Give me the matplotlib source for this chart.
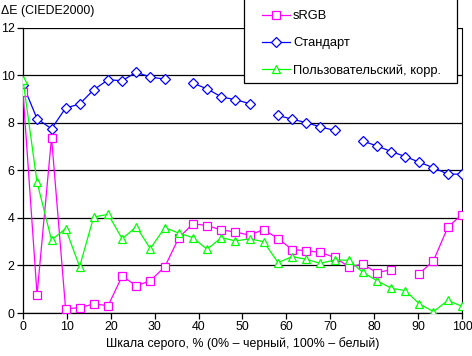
import numpy as np
import matplotlib
matplotlib.use("Agg")
import matplotlib.pyplot as plt
from matplotlib.patches import Rectangle

nan = np.nan
gray_levels = [0, 3.2, 6.5, 9.7, 12.9, 16.1, 19.4, 22.6, 25.8, 29.0, 32.3, 35.5,
               38.7, 41.9, 45.2, 48.4, 51.6, 54.8, 58.1, 61.3, 64.5, 67.7, 71.0,
               74.2, 77.4, 80.6, 83.9, 87.1, 90.3, 93.5, 96.8, 100]

srgb = [9.28, 0.77, 7.38, 0.18, 0.22, 0.38, 0.31, 1.56, 1.14, 1.36, 1.94, 3.17,
        3.75, 3.68, 3.49, 3.41, 3.27, 3.51, 3.13, 2.67, 2.62, 2.55, 2.34,
        1.95, 2.05, 1.70, 1.82, nan, 1.66, 2.20, 3.62, 4.14]

standard = [9.60, 8.17, 7.75, 8.62, 8.79, 9.39, 9.81, 9.77, 10.13, 9.92, 9.84, nan,
            9.67, 9.43, 9.09, 8.97, 8.81, nan, 8.31, 8.15, 8.01, 7.83, 7.68,
            nan, 7.23, 7.03, 6.79, 6.58, 6.34, 6.11, 5.84, 5.84]

custom = [9.81, 5.50, 3.07, 3.55, 1.95, 4.04, 4.15, 3.12, 3.63, 2.71, 3.59, 3.36,
          3.17, 2.68, 3.17, 3.03, 3.12, 3.00, 2.12, 2.37, 2.26, 2.09, 2.23,
          2.22, 1.71, 1.36, 1.04, 0.94, 0.38, 0.06, 0.53, 0.28]

series_names = ["sRGB", "Стандарт", "Пользовательский, корр."]
x_ticks = [0, 10, 20, 30, 40, 50, 60, 70, 80, 90, 100]
y_ticks = [0, 2, 4, 6, 8, 10, 12]

plt.rcParams['font.family'] = ['Liberation Sans', 'DejaVu Sans']
fs = 8.9
lfs = 9.3

fig = plt.figure(figsize=(4.72, 3.56), dpi=100)
W, H = 472, 356
ax = fig.add_axes([23 / W, 1 - 313 / H, (462 - 23) / W, (313 - 27.7) / H])

ax.plot(gray_levels, srgb, color='#FF00FF', lw=0.9, marker='s', ms=5.2,
        mfc='white', mec='#FF00FF', mew=0.9, label=series_names[0], zorder=4)
ax.plot(gray_levels, standard, color='#0000FF', lw=0.9, marker='D', ms=4.6,
        mfc='white', mec='#0000FF', mew=0.9, label=series_names[1], zorder=3)
ax.plot(gray_levels, custom, color='#00FF00', lw=0.9, marker='^', ms=6.0,
        mfc='white', mec='#00FF00', mew=0.9, label=series_names[2], zorder=5)

ax.set_xlim(0, 100)
ax.set_ylim(0, 12)
ax.set_xticks(x_ticks)
ax.set_yticks(y_ticks)
ax.tick_params(labelsize=fs, length=4, width=0.9, color='black', pad=2)
ax.grid(axis='y', color='black', lw=0.9, zorder=0)
ax.set_axisbelow(True)
for s in ['left', 'bottom', 'right']:
    ax.spines[s].set_color('black')
    ax.spines[s].set_linewidth(0.9)
ax.spines['top'].set_visible(False)
ax.spines['right'].set_linewidth(0.8)

ax.set_xlabel("Шкала серого, % (0% – черный, 100% – белый)", fontsize=fs, labelpad=3)
fig.text(1 / W, 1 - 11 / H, "ΔE (CIEDE2000)", fontsize=fs, ha='left', va='center')

# legend frame
frame = Rectangle((244 / W, 1 - 83 / H), (457 - 244) / W, 90 / H,
                  transform=fig.transFigure, facecolor='white', edgecolor='black',
                  lw=0.9, zorder=3)
fig.patches.append(frame)

leg = fig.legend(loc='upper left', bbox_to_anchor=(262 / W, 1 - 10.3 / H), fontsize=lfs,
                 frameon=False, handlelength=2.17, labelspacing=1.15, borderpad=0,
                 handletextpad=0.23, borderaxespad=0)
leg.set_zorder(4)

fig.savefig("out.png", dpi=100)
